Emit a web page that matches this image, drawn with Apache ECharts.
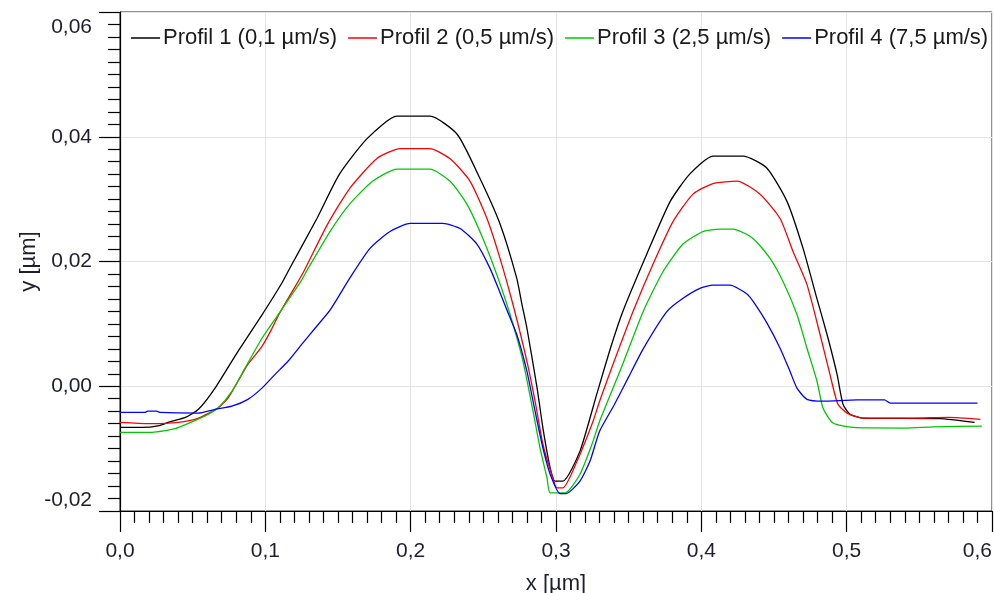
<!DOCTYPE html>
<html>
<head>
<meta charset="utf-8">
<script src="https://cdn.jsdelivr.net/npm/echarts@6/dist/echarts.min.js"></script>
<style>
html,body{margin:0;padding:0;background:#fff;}
#chart{width:994px;height:593px;}
</style>
</head>
<body>
<div id="chart"></div>
<script>
const seriesNames = ['Profil 1 (0,1 µm/s)', 'Profil 2 (0,5 µm/s)', 'Profil 3 (2,5 µm/s)', 'Profil 4 (7,5 µm/s)'];
const seriesColors = ['#000000', '#ff0000', '#00c800', '#0000ff'];
const xTicks = [0.0, 0.1, 0.2, 0.3, 0.4, 0.5, 0.6];
const yTicks = [-0.02, 0.00, 0.02, 0.04, 0.06];

const profil1 = [[0,-0.0066],[0.015,-0.0066],[0.027,-0.0063],[0.034,-0.0057],[0.045,-0.0050],[0.054,-0.0037],[0.0654,-0.0003],[0.0812,0.0056],[0.0984,0.0117],[0.1115,0.0166],[0.117,0.0190],[0.1355,0.0269],[0.151,0.0340],[0.170,0.0397],[0.1906,0.0433],[0.2133,0.0433],[0.232,0.0404],[0.2477,0.0333],[0.2615,0.0260],[0.273,0.0173],[0.2766,0.0131],[0.280,0.0093],[0.287,-0.0003],[0.291,-0.0067],[0.296,-0.0131],[0.2993,-0.0152],[0.3048,-0.0152],[0.3165,-0.0104],[0.328,-0.0013],[0.338,0.0065],[0.346,0.0120],[0.3625,0.0212],[0.3785,0.0296],[0.392,0.0340],[0.408,0.0369],[0.4287,0.0369],[0.445,0.0350],[0.459,0.0296],[0.470,0.0221],[0.479,0.0145],[0.4865,0.0083],[0.4934,0.0019],[0.4975,-0.0029],[0.5023,-0.0045],[0.511,-0.0051],[0.564,-0.0052],[0.588,-0.0058]];
const profil2 = [[0,-0.0058],[0.02,-0.0060],[0.04,-0.0058],[0.054,-0.0051],[0.0674,-0.0035],[0.0743,-0.0019],[0.0812,0.0008],[0.088,0.0035],[0.0977,0.0064],[0.104,0.0090],[0.110,0.0118],[0.118,0.0150],[0.126,0.0182],[0.1424,0.0258],[0.158,0.0317],[0.1768,0.0365],[0.1927,0.0381],[0.2133,0.0381],[0.227,0.0365],[0.2408,0.0329],[0.2525,0.0269],[0.2615,0.0205],[0.2704,0.0131],[0.280,0.0040],[0.2856,-0.0024],[0.291,-0.0093],[0.297,-0.0141],[0.3007,-0.0163],[0.3048,-0.0163],[0.3145,-0.0120],[0.3255,-0.0056],[0.330,-0.0024],[0.340,0.0040],[0.353,0.0120],[0.3668,0.0196],[0.3805,0.0264],[0.3943,0.0308],[0.408,0.0325],[0.4246,0.0329],[0.4404,0.0308],[0.4542,0.0269],[0.4631,0.0216],[0.4727,0.0163],[0.4817,0.0083],[0.4885,0.0019],[0.494,-0.0029],[0.5003,-0.0043],[0.511,-0.0051],[0.545,-0.0051],[0.570,-0.0050],[0.592,-0.0053]];
const profil3 = [[0,-0.0074],[0.022,-0.0074],[0.0378,-0.0068],[0.0495,-0.0057],[0.0606,-0.0045],[0.0674,-0.0035],[0.077,-0.0008],[0.086,0.0029],[0.0977,0.0077],[0.111,0.0122],[0.125,0.0170],[0.1285,0.0185],[0.1445,0.0248],[0.158,0.0292],[0.174,0.0329],[0.1906,0.0348],[0.2133,0.0348],[0.227,0.0329],[0.2387,0.0292],[0.2497,0.0237],[0.2594,0.0178],[0.2684,0.0115],[0.2773,0.0040],[0.2842,-0.0040],[0.289,-0.0099],[0.2938,-0.0147],[0.296,-0.0171],[0.3062,-0.0171],[0.3165,-0.0141],[0.3255,-0.0088],[0.330,-0.0056],[0.345,0.0030],[0.360,0.0120],[0.3737,0.0184],[0.3874,0.0228],[0.4011,0.0248],[0.4128,0.0252],[0.4218,0.0252],[0.4356,0.0237],[0.4473,0.0205],[0.4562,0.0168],[0.4658,0.0115],[0.4727,0.0061],[0.4796,0.0008],[0.4837,-0.0035],[0.4906,-0.0059],[0.5044,-0.0066],[0.540,-0.0067],[0.560,-0.0065],[0.593,-0.0064]];
const profil4 = [[0,-0.0042],[0.017,-0.0042],[0.019,-0.0040],[0.025,-0.0040],[0.028,-0.0042],[0.0537,-0.0043],[0.0654,-0.0037],[0.077,-0.0032],[0.088,-0.0021],[0.0977,-0.0003],[0.1067,0.0019],[0.1156,0.0040],[0.125,0.0067],[0.1342,0.0093],[0.1445,0.0122],[0.158,0.0173],[0.172,0.0221],[0.1858,0.0248],[0.1996,0.0261],[0.2222,0.0261],[0.234,0.0253],[0.2456,0.0228],[0.2546,0.0189],[0.2615,0.0150],[0.2663,0.0122],[0.273,0.0083],[0.280,0.0024],[0.2856,-0.0040],[0.291,-0.0099],[0.296,-0.0141],[0.3028,-0.0172],[0.307,-0.0172],[0.3165,-0.0152],[0.3234,-0.0120],[0.330,-0.0072],[0.340,-0.0030],[0.350,0.0015],[0.360,0.0060],[0.3764,0.0120],[0.3874,0.0141],[0.399,0.0157],[0.408,0.0162],[0.4197,0.0162],[0.4314,0.0148],[0.4366,0.0133],[0.445,0.0102],[0.4542,0.0061],[0.461,0.0024],[0.4658,-0.0003],[0.4727,-0.0021],[0.4837,-0.0024],[0.507,-0.0022],[0.526,-0.0022],[0.530,-0.0027],[0.590,-0.0027]];
const profiles = [profil1, profil2, profil3, profil4];

const FONT = '"Liberation Sans", Arial, sans-serif';
const chart = echarts.init(document.getElementById('chart'), null, {renderer: 'canvas'});

function fmtY(v) {
  if (Math.abs(v) < 1e-9) v = 0;
  const s = v.toFixed(2).replace('.', ',');
  if (v >= yTicks[yTicks.length - 1] - 1e-9) return '{t|' + s + '}';
  if (v <= yTicks[0] + 1e-9) return '{b|' + s + '}';
  return s;
}

const labelStyle = {fontFamily: FONT, fontSize: 21, color: '#1e1e2e'};

chart.setOption({
  animation: false,
  backgroundColor: '#ffffff',
  grid: {
    left: 120, right: 2, top: 12, bottom: 82,
    outerBoundsMode: 'none', containLabel: false,
    show: true, borderColor: '#222', borderWidth: 1, backgroundColor: 'transparent'
  },
  legend: {
    left: 126, top: 22,
    icon: 'rect',
    itemWidth: 29, itemHeight: 1.5, itemGap: 11,
    textStyle: {fontFamily: FONT, fontSize: 22, color: '#1a1a1a', padding: [0, 0, 0, -2]},
    data: seriesNames
  },
  xAxis: {
    type: 'value',
    min: xTicks[0], max: xTicks[xTicks.length - 1], interval: 0.1,
    name: 'x [µm]', nameLocation: 'middle', nameGap: 62,
    nameTextStyle: {fontFamily: FONT, fontSize: 22, color: '#1e1e2e'},
    axisLine: {show: true, onZero: false, lineStyle: {color: '#000', width: 1.2}},
    axisTick: {show: true, inside: false, length: 21, lineStyle: {color: '#000', width: 1.2}},
    minorTick: {show: true, splitNumber: 10, length: 12, lineStyle: {color: '#000', width: 1.2}},
    axisLabel: Object.assign({margin: 30, alignMaxLabel: 'right', formatter: v => v.toFixed(1).replace('.', ',')}, labelStyle),
    splitLine: {show: true, lineStyle: {color: '#e4e4e4', width: 1}},
    minorSplitLine: {show: false}
  },
  yAxis: {
    type: 'value',
    min: yTicks[0], max: yTicks[yTicks.length - 1], interval: 0.02,
    name: 'y [µm]', nameLocation: 'middle', nameGap: 80, nameRotate: 90,
    nameMoveOverlap: false,
    nameTextStyle: {fontFamily: FONT, fontSize: 22, color: '#1e1e2e'},
    axisLine: {show: true, onZero: false, lineStyle: {color: '#000', width: 1.2}},
    axisTick: {show: true, inside: false, length: 21, lineStyle: {color: '#000', width: 1.2}},
    minorTick: {show: true, splitNumber: 10, length: 12, lineStyle: {color: '#000', width: 1.2}},
    axisLabel: Object.assign({
      margin: 28, formatter: fmtY,
      rich: {
        t: Object.assign({padding: [30, 0, 0, 0]}, labelStyle),
        b: Object.assign({padding: [0, 0, 22, 0]}, labelStyle)
      }
    }, labelStyle),
    splitLine: {show: true, lineStyle: {color: '#e4e4e4', width: 1}}
  },
  series: profiles.map((d, i) => ({
    name: seriesNames[i],
    type: 'line',
    data: d,
    symbol: 'none',
    showSymbol: false,
    smooth: 0.2,
    color: seriesColors[i],
    lineStyle: {color: seriesColors[i], width: 1.3}
  }))
});
</script>
</body>
</html>
